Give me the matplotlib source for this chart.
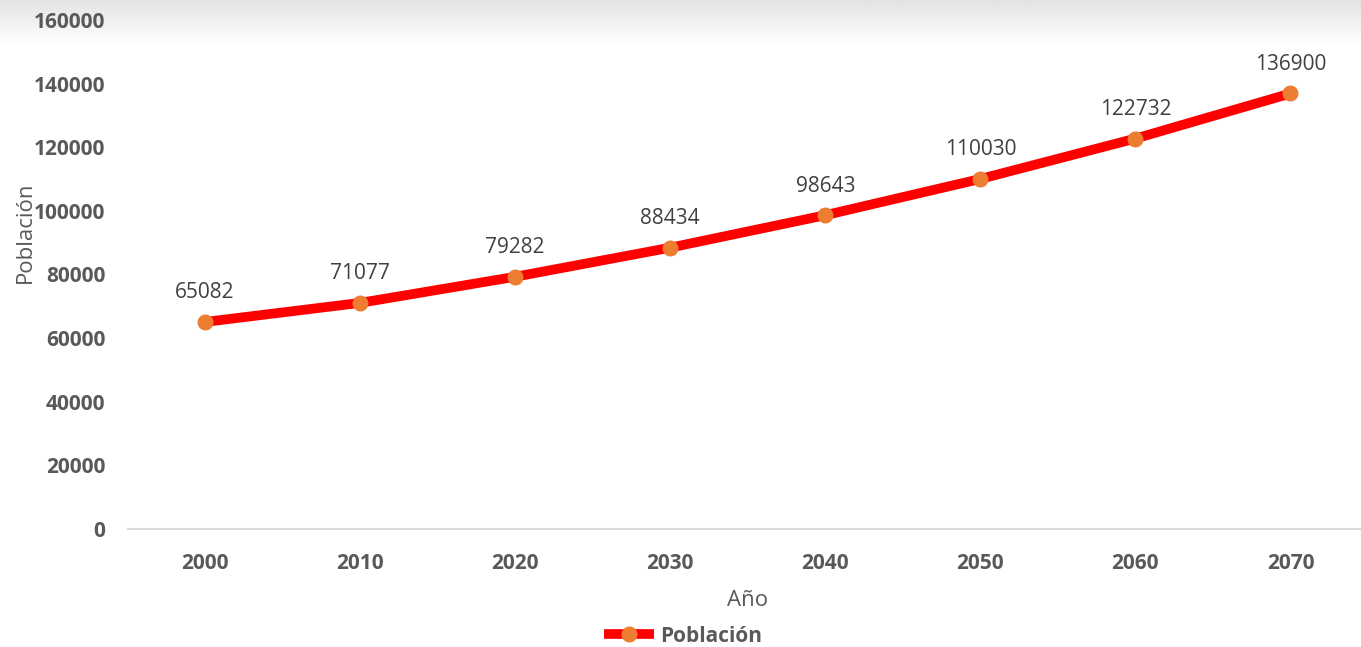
import numpy as np
import matplotlib
matplotlib.use("Agg")
from matplotlib import pyplot as plt

anios = ["2000", "2010", "2020", "2030", "2040", "2050", "2060", "2070"]
poblacion = [65082, 71077, 79282, 88434, 98643, 110030, 122732, 136900]
yticks = [0, 20000, 40000, 60000, 80000, 100000, 120000, 140000, 160000]

plt.rcParams['font.family'] = ['Open Sans', 'DejaVu Sans']
gris = "#595959"

fig = plt.figure(figsize=(13.61, 6.47), dpi=100)

# sombra gris arriba
sh = fig.add_axes([0, 1 - 45 / 647, 1, 45 / 647], zorder=0)
grad = np.linspace(0.89, 1.0, 50).reshape(-1, 1)
sh.imshow(grad, cmap="gray", vmin=0, vmax=1, aspect="auto", extent=[0, 1, 0, 1])
sh.axis("off")

ax = fig.add_axes([127.5 / 1361, 118 / 647, 1240.5 / 1361, 509 / 647], zorder=1)
ax.patch.set_alpha(0)
x = np.arange(len(anios))
ax.plot(x, poblacion, color="#ff0000", lw=7, solid_joinstyle="round", solid_capstyle="butt",
        marker="o", ms=10.5, mfc="#ed7d31", mec="#ed7d31", label="Población", zorder=3)

for xi, v in zip(x, poblacion):
    ax.annotate(str(v), (xi, v), xytext=(0, 21), textcoords="offset points",
                ha="center", va="center", fontsize=15, color="#404040")

ax.set_xlim(-0.5, len(anios) - 0.5)
ax.set_ylim(0, 160000)
ax.set_xticks(x)
ax.set_xticklabels(anios, fontsize=15, fontweight="bold", color=gris)
ax.set_yticks(yticks)
ax.set_yticklabels([str(t) for t in yticks], fontsize=15, fontweight="bold", color=gris)
ax.tick_params(axis="both", length=0)
ax.tick_params(axis="y", pad=16)
ax.tick_params(axis="x", pad=17)
for s in ["top", "right", "left"]:
    ax.spines[s].set_visible(False)
ax.spines["bottom"].set_color("#d9d9d9")
ax.spines["bottom"].set_linewidth(1.5)

fig.text(25 / 1361, 1 - 232 / 647, "Población", rotation=90, ha="center", va="center",
         fontsize=16, color=gris)
fig.text(748 / 1361, 1 - 601 / 647, "Año", ha="center", va="center", fontsize=16, color=gris)

fig.legend(loc="center", bbox_to_anchor=(683 / 1361, 1 - 636 / 647), frameon=False,
           prop={"size": 15, "weight": "bold"}, labelcolor=gris, handlelength=2.4,
           handletextpad=0.3)

fig.savefig("out.png", dpi=100)
